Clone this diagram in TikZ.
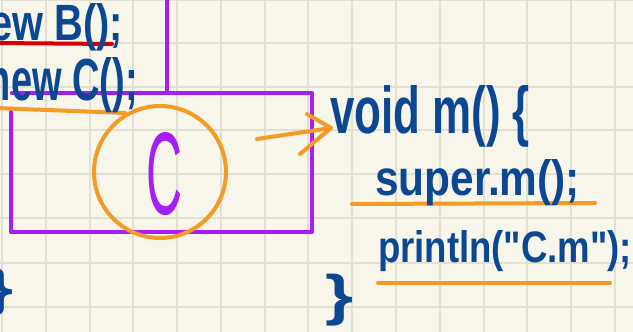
\documentclass[tikz,border=0pt]{standalone}
\usepackage{fontspec}
\setmainfont{Liberation Sans}
\definecolor{paper}{HTML}{F8F6EA}
\definecolor{gridc}{HTML}{E2E0D2}
\definecolor{purpink}{HTML}{A51EF5}
\definecolor{orangeink}{HTML}{F39B26}
\definecolor{blueink}{HTML}{0B4793}
\definecolor{redink}{HTML}{D40000}
\newcommand\hw[3]{\resizebox{#1}{#2}{#3}}
\tikzset{
  purpline/.style={draw=purpink,line width=4.5pt,line cap=round,line join=round},
  orangeline/.style={draw=orangeink,line width=4pt,line cap=round,line join=round},
  redline/.style={draw=redink,line width=4pt,line cap=round},
  ink/.style={text=blueink,inner sep=0pt,outer sep=0pt,font=\bfseries},
}
\begin{document}
\begin{tikzpicture}[x=1pt,y=-1pt]
\useasboundingbox (0,0) rectangle (633,332);
\clip (0,0) rectangle (633,332);
\fill[paper] (0,0) rectangle (633,332);
% grid
\foreach \gx in {2,46,90,133,177,221,265,308,352,396,440,484,527,571,615}
  \draw[gridc,line width=2pt] (\gx,0) -- (\gx,332);
\foreach \gy in {0,43,87,130,174,218,263,307}
  \draw[gridc,line width=2pt] (0,\gy) -- (633,\gy);
% purple structure
\coordinate (vtop) at (167,-5);
\coordinate (vbot) at (167,90);
\draw[purpline] (vtop) -- (vbot);
\coordinate (rtl) at (12,93);
\coordinate (rtr) at (312,93);
\coordinate (rbr) at (312,232);
\coordinate (rbl) at (11,232);
\coordinate (rlt) at (11,112);
\draw[purpline] (rtl) -- (rtr) -- (rbr) -- (rbl) -- (rlt);
% orange circle with C
\node[draw=orangeink,line width=4pt,circle,minimum size=132pt,inner sep=0pt] (circ) at (160,172) {};
\node[text=purpink,inner sep=0pt] (cletter) at (165,174) {\hw{36pt}{82pt}{C}};
% arrow
\coordinate (arrowtail) at (257,139);
\coordinate (arrowtip) at (331,128);
\draw[orangeline] (arrowtail) -- (arrowtip);
\draw[orangeline] (arrowtip) ++(-24,-14) -- (arrowtip) -- ++(-31,26);
% underlines
\coordinate (redA) at (-5,43);
\coordinate (redB) at (112,44);
\draw[redline] (redA) -- (redB);
\coordinate (ulcA) at (-5,108);
\coordinate (ulcB) at (125,113);
\draw[orangeline] (ulcA) -- (ulcB);
\coordinate (ulsA) at (352,204);
\coordinate (ulsB) at (595,203);
\draw[orangeline] (ulsA) -- (ulsB);
\coordinate (ulpA) at (378,283);
\coordinate (ulpB) at (610,283);
\draw[orangeline] (ulpA) -- (ulpB);
% code text
\node[ink,anchor=base east] (newb) at (123,40) {\hw{157pt}{37pt}{new B();}};
\node[ink,anchor=base east] (newc) at (138,100) {\hw{150pt}{43pt}{new C();}};
\node[ink,anchor=base west] (voidm) at (330,133) {\hw{200pt}{48pt}{void m() \{}};
\node[ink,anchor=base west] (superm) at (375,195) {\hw{205pt}{36pt}{super.m();}};
\node[ink,anchor=base west] (println) at (378,262) {\hw{254pt}{32pt}{println(\textquotedbl C.m\textquotedbl);}};
\node[ink] (closebr) at (340,300) {\resizebox*{28pt}{52pt}{\}}};
\node[ink] (leftbr) at (0,292) {\resizebox*{28pt}{48pt}{\}}};
\end{tikzpicture}
\end{document}
